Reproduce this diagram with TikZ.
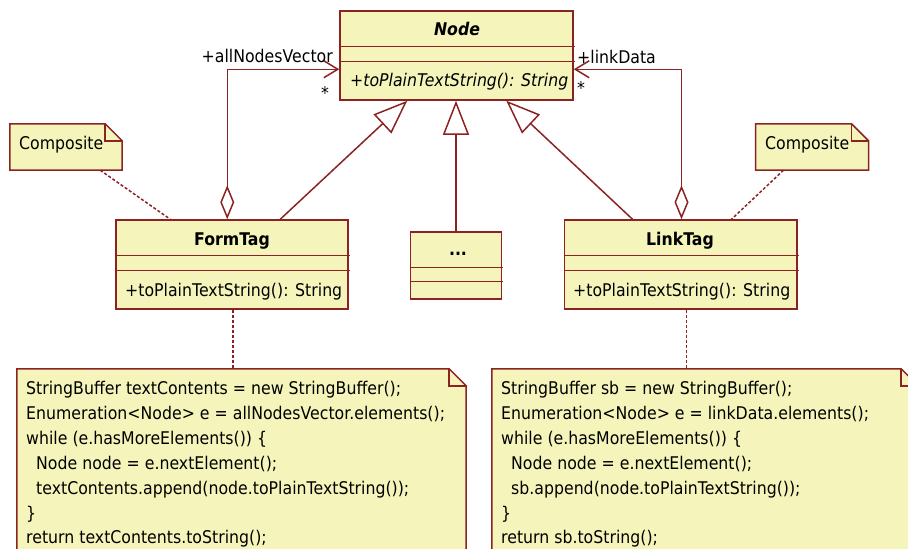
\documentclass[tikz,border=0pt]{standalone}
\usepackage{fontspec}
\setmainfont{DejaVu Sans}[FakeStretch=0.9]
\usetikzlibrary{arrows.meta,calc}
\definecolor{umlline}{RGB}{139,35,35}
\definecolor{umlfill}{RGB}{245,245,187}
\newcommand\umlfs{\fontsize{17.5}{25}\selectfont}
\begin{document}
\begin{tikzpicture}[x=1pt,y=-1pt,
  cls/.style={draw=umlline, fill=umlfill, line width=1.5pt, inner sep=0pt},
  notebox/.style={inner sep=0pt},
  notest/.style={draw=umlline, fill=umlfill, line width=1.5pt, line join=miter},
  divider/.style={draw=umlline, line width=1.5pt},
  txt/.style={inner sep=0pt, anchor=base west, font=\umlfs},
  ctxt/.style={inner sep=0pt, anchor=base, font=\umlfs},
  dotline/.style={draw=umlline, line width=1.5pt, dash pattern=on 3pt off 2pt},
  gen/.style={draw=umlline, line width=1.5pt, -{Triangle[open, length=34pt, width=26pt]}},
  agg/.style={draw=umlline, line width=1.5pt, {Diamond[open, length=34pt, width=14pt]}-{Straight Barb[length=14pt, width=17pt]}}]
\useasboundingbox (0,0) rectangle (908,549);
\clip (0,0) rectangle (908,549);

% ---------- class boxes ----------
\node[cls, minimum width=233pt, minimum height=89pt] (nd) at (456.5,55.5) {};
\node[cls, minimum width=232pt, minimum height=89pt] (formtag) at (232,264.5) {};
\node[cls, minimum width=91pt, minimum height=67pt] (dots) at (456,265.5) {};
\node[cls, minimum width=232.5pt, minimum height=89pt] (linktag) at (680.5,264.5) {};

% dividers
\draw[divider] ([yshift=-36pt]nd.north west) -- ++(236,0);
\draw[divider] ([yshift=-51pt]nd.north west) -- ++(236,0);
\draw[divider] ([yshift=-36pt]formtag.north west) -- ++(235,0);
\draw[divider] ([yshift=-51pt]formtag.north west) -- ++(235,0);
\draw[divider] ([yshift=-36pt]dots.north west) -- ++(93,0);
\draw[divider] ([yshift=-50pt]dots.north west) -- ++(93,0);
\draw[divider] ([yshift=-36pt]linktag.north west) -- ++(235,0);
\draw[divider] ([yshift=-51pt]linktag.north west) -- ++(235,0);

% class texts
\node[ctxt, font=\umlfs\bfseries\itshape] (ndname) at (457,35) {Node};
\node[txt, font=\umlfs\itshape] (ndop) at (350,86.5) {+toPlainTextString(): String};
\node[ctxt, font=\umlfs\bfseries] (ftname) at (232,245) {FormTag};
\node[txt] (ftop) at (125,296) {+toPlainTextString(): String};
\node[ctxt, font=\umlfs\bfseries] (dotsname) at (458,255) {...};
\node[ctxt, font=\umlfs\bfseries] (ltname) at (680,245) {LinkTag};
\node[txt] (ltop) at (573,296) {+toPlainTextString(): String};

% ---------- notes ----------
\node[notebox, minimum width=112pt, minimum height=46pt] (c1) at (66,147) {};
\node[notebox, minimum width=112.6pt, minimum height=46pt] (c2) at (812,147) {};
\node[notebox, minimum width=449pt, minimum height=191pt] (code1) at (241.5,464.5) {};
\node[notebox, minimum width=426pt, minimum height=191pt] (code2) at (705,464.5) {};

\foreach \n in {c1,c2,code1,code2}{
  \draw[notest] (\n.north west) -- ([xshift=-17pt]\n.north east) -- ([yshift=-17pt]\n.north east) -- (\n.south east) -- (\n.south west) -- cycle;
  \draw[divider] ([xshift=-17pt]\n.north east) -- ([xshift=-17pt,yshift=-17pt]\n.north east) -- ([yshift=-17pt]\n.north east);
}

\node[txt] (c1t) at (19,149) {Composite};
\node[txt] (c2t) at (765,149) {Composite};

% code note 1
\node[txt] (l1a) at (26,394) {StringBuffer textContents = new StringBuffer();};
\node[txt] (l1b) at (26,419) {Enumeration<Node> e = allNodesVector.elements();};
\node[txt] (l1c) at (26,444) {while (e.hasMoreElements()) \{};
\node[txt] (l1d) at (36,469) {Node node = e.nextElement();};
\node[txt] (l1e) at (36,494) {textContents.append(node.toPlainTextString());};
\node[txt] (l1f) at (26,519) {\}};
\node[txt] (l1g) at (26,543.5) {return textContents.toString();};

% code note 2
\node[txt] (l2a) at (501,394) {StringBuffer sb = new StringBuffer();};
\node[txt] (l2b) at (501,419) {Enumeration<Node> e = linkData.elements();};
\node[txt] (l2c) at (501,444) {while (e.hasMoreElements()) \{};
\node[txt] (l2d) at (511,469) {Node node = e.nextElement();};
\node[txt] (l2e) at (511,494) {sb.append(node.toPlainTextString());};
\node[txt] (l2f) at (501,519) {\}};
\node[txt] (l2g) at (501,543.5) {return sb.toString();};

% ---------- connectors ----------
\draw[gen] ([xshift=165pt]formtag.north west) -- ([xshift=68pt]nd.south west);
\draw[gen] (dots.north) -- (dots.north |- nd.south);
\draw[gen] ([xshift=69pt]linktag.north west) -- ([xshift=167pt]nd.south west);

\draw[agg] ([xshift=112pt]formtag.north west) |- ([yshift=-59pt]nd.north west);
\draw[agg] ([xshift=118pt]linktag.north west) |- ([yshift=-59pt]nd.north east);

\draw[dotline] ([xshift=-22pt]c1.south east) -- ([xshift=55pt]formtag.north west);
\draw[dotline] ([xshift=28pt]c2.south west) -- ([xshift=-66pt]linktag.north east);
\draw[dotline] ([xshift=1pt]formtag.south) -- ([xshift=1pt]formtag.south |- code1.north);
\draw[dotline] ([xshift=6pt]linktag.south) -- ([xshift=6pt]linktag.south |- code2.north);

% role labels
\node[inner sep=0pt, anchor=base east, font=\umlfs] (r1) at (333,62) {+allNodesVector};
\node[inner sep=0pt, font=\umlfs] (m1) at (325,93) {*};
\node[inner sep=0pt, anchor=base west, font=\umlfs] (r2) at (577,63) {+linkData};
\node[inner sep=0pt, font=\umlfs] (m2) at (581,88) {*};
\end{tikzpicture}
\end{document}
